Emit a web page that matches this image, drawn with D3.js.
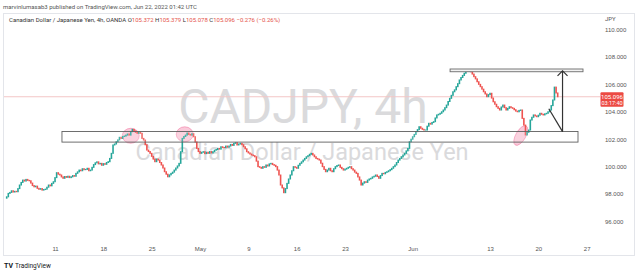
<!DOCTYPE html>
<html>
<head>
<meta charset="utf-8">
<script src="https://cdn.jsdelivr.net/npm/d3@7"></script>
<style>
body { margin: 0; background: #fff; }
svg { display: block; font-family: Roboto, "Liberation Sans", sans-serif; }
</style>
</head>
<body>
<div id="chart"></div>
<script>
// 4h closes, Apr 4 -> Jun 22 2022 (open of each bar = previous close)
const closes = [
  97.80, 98.05, 98.12, 98.24, 98.15, 98.20, 98.17, 98.40, 98.66, 98.85,
  99.02, 98.95, 99.07, 99.00, 98.97, 98.80, 98.62, 98.53, 98.58, 98.42,
  98.35, 98.40, 98.29, 98.33, 98.36, 98.50, 98.66, 98.60, 98.78, 98.90,
  99.20, 99.56, 99.45, 99.39, 99.25, 99.15, 99.28, 99.22, 99.30, 99.20,
  99.26, 99.35, 99.30, 99.51, 99.62, 99.75, 99.70, 99.85, 99.78, 99.80,
  99.88, 99.70, 99.75, 99.95, 100.15, 100.28, 100.35, 100.20, 100.24, 100.10,
  100.22, 100.17, 100.30, 100.36, 100.60, 100.97, 101.58, 101.65, 101.82, 101.95,
  102.14, 102.05, 102.20, 102.23, 102.30, 102.38, 102.30, 102.55, 102.72, 102.60,
  102.50, 102.43, 102.52, 102.43, 102.06, 101.94, 101.60, 101.21, 101.10, 100.97,
  100.75, 100.55, 100.36, 100.55, 100.48, 100.30, 100.12, 99.90, 99.63, 99.45,
  99.26, 99.40, 99.51, 99.60, 99.75, 99.90, 100.05, 100.24, 101.09, 102.06,
  102.20, 102.30, 102.45, 102.35, 102.30, 102.40, 102.18, 101.80, 101.33, 101.10,
  100.97, 101.05, 101.09, 100.95, 101.05, 100.97, 101.10, 101.00, 101.09, 101.20,
  101.25, 101.33, 101.28, 101.45, 101.40, 101.38, 101.50, 101.42, 101.50, 101.62,
  101.55, 101.70, 101.75, 101.58, 101.65, 101.70, 101.60, 101.45, 101.30, 101.09,
  101.00, 100.92, 100.85, 100.80, 100.72, 100.40, 100.00, 99.95, 99.88, 100.00,
  99.95, 100.12, 100.05, 100.20, 100.24, 100.15, 100.10, 100.00, 99.75, 99.39,
  98.66, 98.45, 98.10, 98.40, 98.78, 99.10, 99.39, 99.70, 100.00, 99.95,
  99.88, 100.10, 100.24, 100.35, 100.48, 100.60, 100.72, 100.80, 100.90, 100.97,
  100.85, 100.72, 100.60, 100.55, 100.48, 100.25, 100.00, 99.80, 99.63, 99.75,
  99.88, 99.70, 99.63, 99.85, 100.00, 100.08, 100.12, 99.95, 99.85, 99.75,
  99.82, 99.88, 99.95, 100.00, 99.85, 99.75, 99.60, 99.51, 99.25, 99.02,
  98.66, 98.80, 98.90, 98.85, 99.02, 99.10, 99.15, 99.25, 99.30, 99.39,
  99.28, 99.15, 99.35, 99.51, 99.48, 99.58, 99.63, 99.70, 99.78, 99.88,
  100.00, 100.12, 100.30, 100.48, 100.60, 100.72, 100.85, 100.97, 101.15, 101.33,
  101.82, 102.00, 102.18, 102.35, 102.55, 102.70, 102.91, 102.80, 102.72, 102.67,
  102.67, 102.95, 103.16, 103.10, 103.22, 103.28, 103.55, 103.77, 103.82, 103.89,
  104.00, 104.13, 104.30, 104.49, 104.75, 104.98, 105.20, 105.46, 105.60, 105.83,
  106.05, 106.32, 106.50, 106.65, 106.81, 107.05, 106.95, 106.98, 106.92, 106.75,
  106.56, 106.40, 106.19, 106.00, 105.83, 105.65, 105.46, 105.30, 105.10, 105.25,
  105.35, 105.00, 104.73, 104.55, 104.37, 104.25, 104.13, 104.35, 104.49, 104.30,
  104.13, 104.25, 104.37, 104.30, 104.25, 104.15, 104.05, 104.00, 104.10, 104.13,
  103.52, 103.03, 102.31, 102.50, 102.67, 103.40, 103.60, 103.77, 103.70, 103.64,
  103.75, 103.89, 103.82, 103.77, 103.85, 103.89, 104.00, 104.13, 104.45, 104.86,
  105.80, 105.372, 105.096
];
const firstOpen = 97.70;

const priceTicks = [96, 98, 100, 102, 104, 106, 108, 110];
const dateTickBars = [30, 60, 90, 120, 150, 180, 210, 252, 300, 330, 360];
const dateTickLabels = ["11", "18", "25", "May", "9", "16", "23", "Jun", "13", "20", "27"];

const lastPrice = 105.096;
const countdown = "03:17:40";

// drawings on the chart, in bar / price units
const zoneBars = [34.3, 354.6];
const zonePrices = [101.79, 102.56];
const topLineBars = [275.2, 357.7];
const topLinePrices = [106.92, 107.12];
const arrowBar = 345;
const arrowPrices = [102.55, 106.98];
const diagFrom = [336.5, 104.22];
const markers = [
  { bar: 77, price: 102.25 },
  { bar: 110.5, price: 102.36 },
  { bar: 319.1, price: 102.27 }
];

const width = 640, height = 273;
const svg = d3.select("#chart").append("svg")
  .attr("width", width)
  .attr("height", height);

const x = d3.scaleLinear().domain([0, 360]).range([6.7, 586.7]);
const y = d3.scaleLinear().domain([96, 110]).range([221.5, 29.5]);

// header
svg.append("text")
  .attr("x", 3).attr("y", 8.5)
  .attr("font-size", 6).attr("fill", "#555")
  .text("marvinlumasab3 published on TradingView.com, Jun 22, 2022 01:42 UTC");

const legend = svg.append("text")
  .attr("x", 9).attr("y", 22)
  .attr("font-size", 6).attr("fill", "#333");
legend.append("tspan").text("Canadian Dollar / Japanese Yen, 4h, OANDA ");
[["O", "105.372"], ["H", "105.379"], ["L", "105.078"], ["C", "105.096"]].forEach(d => {
  legend.append("tspan").text(" " + d[0]);
  legend.append("tspan").attr("fill", "#e5534b").text(d[1]);
});
legend.append("tspan").attr("fill", "#e5534b").text("  \u22120.276 (\u22120.26%)");

// frame
svg.append("rect")
  .attr("x", 3.5).attr("y", 13.5)
  .attr("width", 631).attr("height", 242)
  .attr("fill", "none")
  .attr("stroke", "#e3e5ea");

// watermark
svg.append("text")
  .attr("x", 303).attr("y", 123)
  .attr("text-anchor", "middle")
  .attr("font-size", 48)
  .attr("fill", "#dadadc")
  .text("CADJPY, 4h");
svg.append("text")
  .attr("x", 302).attr("y", 160)
  .attr("text-anchor", "middle")
  .attr("font-size", 23.5)
  .attr("fill", "#dadadc")
  .text("Canadian Dollar / Japanese Yen");

// last price line
svg.append("line")
  .attr("x1", 4).attr("x2", 600)
  .attr("y1", y(lastPrice)).attr("y2", y(lastPrice))
  .attr("stroke", "#f3c6c6").attr("stroke-width", 1);

// pink markers behind candles
svg.selectAll(".marker")
  .data(markers)
  .enter()
  .append("ellipse")
  .attr("class", "marker")
  .attr("transform", (d, i) => `translate(${x(d.bar)},${y(d.price)}) rotate(${i === 2 ? 30 : 0})`)
  .attr("rx", (d, i) => i === 2 ? 5 : 8.5)
  .attr("ry", (d, i) => i === 2 ? 11 : 7.5)
  .attr("fill", "rgba(236,64,122,0.28)")
  .attr("stroke", "rgba(236,64,122,0.45)")
  .attr("stroke-width", 0.8);

// candles
const bars = closes.map((c, i) => ({
  i: i,
  open: i ? closes[i - 1] : firstOpen,
  close: c
}));

svg.selectAll(".candle")
  .data(bars)
  .enter()
  .append("rect")
  .attr("class", "candle")
  .attr("x", d => x(d.i) - 0.8)
  .attr("width", 1.6)
  .attr("y", d => y(Math.max(d.open, d.close)) - 0.5)
  .attr("height", d => Math.abs(y(d.open) - y(d.close)) + 1)
  .attr("fill", d => d.close >= d.open ? "#26a69a" : "#ef5350");

// support zone
svg.append("rect")
  .attr("x", x(zoneBars[0]))
  .attr("y", y(zonePrices[1]))
  .attr("width", x(zoneBars[1]) - x(zoneBars[0]))
  .attr("height", y(zonePrices[0]) - y(zonePrices[1]))
  .attr("fill", "rgba(255,255,255,0.15)")
  .attr("stroke", "#5f5f5f")
  .attr("stroke-width", 0.9);

// top line
svg.append("rect")
  .attr("x", x(topLineBars[0]))
  .attr("y", y(topLinePrices[1]))
  .attr("width", x(topLineBars[1]) - x(topLineBars[0]))
  .attr("height", y(topLinePrices[0]) - y(topLinePrices[1]))
  .attr("fill", "#f2f2f2")
  .attr("stroke", "#6a6a6a")
  .attr("stroke-width", 0.9);

// projection arrow
const ax = x(arrowBar);
svg.append("line")
  .attr("x1", ax).attr("x2", ax)
  .attr("y1", y(arrowPrices[0])).attr("y2", y(arrowPrices[1]))
  .attr("stroke", "#333").attr("stroke-width", 1.2);
svg.append("path")
  .attr("d", `M${ax - 5},${y(arrowPrices[1]) + 5}L${ax},${y(arrowPrices[1])}L${ax + 5},${y(arrowPrices[1]) + 5}`)
  .attr("fill", "none").attr("stroke", "#333").attr("stroke-width", 1.2);
svg.append("line")
  .attr("x1", x(diagFrom[0])).attr("y1", y(diagFrom[1]))
  .attr("x2", ax).attr("y2", y(arrowPrices[0]))
  .attr("stroke", "#333").attr("stroke-width", 1.2);

// price axis
const yAxis = svg.append("g")
  .attr("transform", "translate(603,0)")
  .call(d3.axisRight(y).tickValues(priceTicks).tickFormat(d3.format(".3f")).tickSize(0).tickPadding(2));
yAxis.select(".domain").remove();
yAxis.selectAll("text").attr("font-size", 6).attr("fill", "#555").attr("font-family", null);

svg.append("text")
  .attr("x", 605).attr("y", 21)
  .attr("font-size", 6).attr("fill", "#555")
  .text("JPY");

// last price label
const labelY = y(lastPrice);
svg.append("rect")
  .attr("x", 600.5).attr("y", labelY - 4.5)
  .attr("width", 23).attr("height", 14.5)
  .attr("rx", 1)
  .attr("fill", "#ec4a43");
svg.append("text")
  .attr("x", 612).attr("y", labelY + 1.8)
  .attr("text-anchor", "middle")
  .attr("font-size", 6).attr("fill", "#fff")
  .text(d3.format(".3f")(lastPrice));
svg.append("text")
  .attr("x", 612).attr("y", labelY + 8.3)
  .attr("text-anchor", "middle")
  .attr("font-size", 5.5).attr("fill", "#fff")
  .text(countdown);

// time axis
const xAxis = svg.append("g")
  .attr("transform", "translate(0,247)")
  .call(d3.axisBottom(x).tickValues(dateTickBars).tickFormat((d, i) => dateTickLabels[i]).tickSize(0).tickPadding(0));
xAxis.select(".domain").remove();
xAxis.selectAll("text").attr("font-size", 6).attr("fill", "#555").attr("font-family", null);

// footer logo
svg.append("text")
  .attr("x", 4).attr("y", 268)
  .attr("font-size", 7).attr("font-weight", "bold").attr("fill", "#131722")
  .text("TV");
svg.append("text")
  .attr("x", 15).attr("y", 268)
  .attr("font-size", 6.5).attr("fill", "#131722")
  .text("TradingView");
</script>
</body>
</html>
